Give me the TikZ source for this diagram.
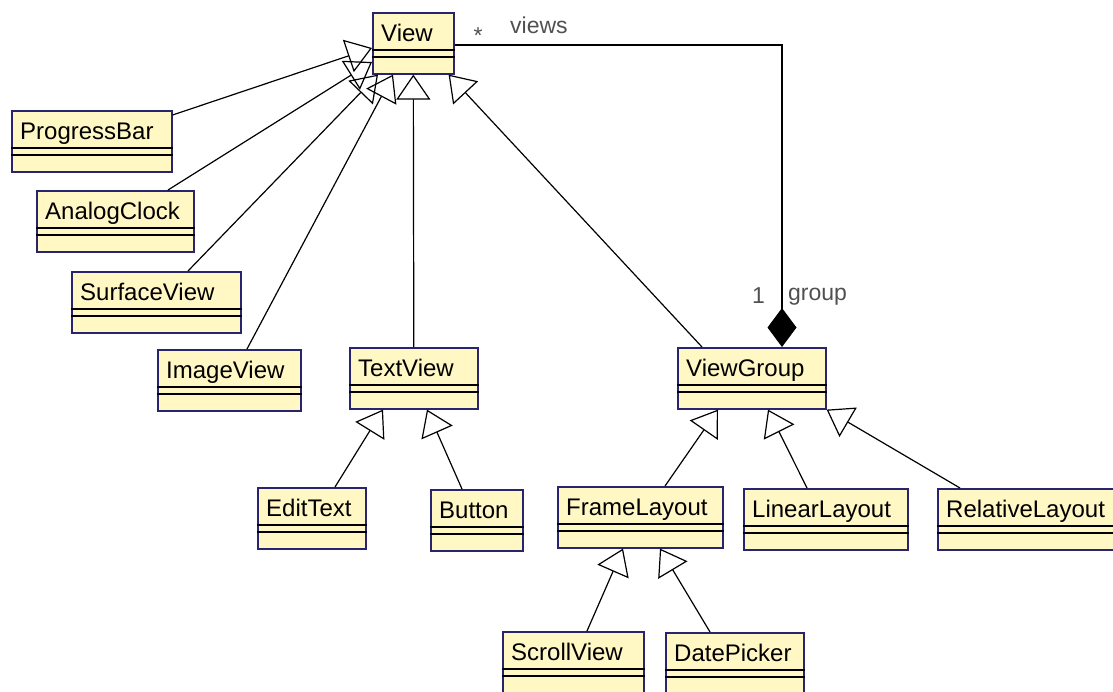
\documentclass[tikz,border=0pt]{standalone}
\usepackage{fontspec}
\setmainfont{Liberation Sans}
\usetikzlibrary{arrows.meta}

\definecolor{classfill}{RGB}{255,247,196}
\definecolor{classedge}{RGB}{40,36,110}
\definecolor{rolegray}{RGB}{80,80,80}

\tikzset{
  classbox/.style={rectangle, draw=classedge, fill=classfill, line width=1.6pt,
    minimum height=61pt, inner sep=0pt},
  classname/.style={inner sep=0pt, font=\fontsize{24}{28}\selectfont},
  compline/.style={line width=1.5pt, black},
  generalize/.style={line width=1.2pt,
    -{Triangle[open, length=25pt, width=34pt]}},
  compose/.style={line width=1.2pt, -{Diamond[length=39pt, width=29pt]}},
  rolelabel/.style={inner sep=0pt, text=rolegray, font=\fontsize{23}{27}\selectfont},
}

% class box: name, left, top, width, title
\newcommand\umlclass[5]{%
  \node[classbox, minimum width=#4pt, anchor=north west] (#1) at (#2,#3) {};
  \node[classname, anchor=base west] (#1-title)
    at ([xshift=9pt, yshift=-29pt]#1.north west) {#5};
  \draw[compline] ([yshift=-38pt]#1.north west) -- ([yshift=-38pt]#1.north east);
  \draw[compline] ([yshift=-45pt]#1.north west) -- ([yshift=-45pt]#1.north east);
}

\begin{document}
\begin{tikzpicture}[x=1pt, y=-1pt]
\useasboundingbox (0,0) rectangle (1113,691);
\clip (0,0) rectangle (1113,691);

% classes
\umlclass{view}{372}{12}{81}{View}
\umlclass{pb}{11}{110}{160}{ProgressBar}
\umlclass{ac}{36}{190}{157}{AnalogClock}
\umlclass{sv}{71}{271}{169}{SurfaceView}
\umlclass{iv}{157}{349}{143}{ImageView}
\umlclass{tv}{349}{347}{128}{TextView}
\umlclass{vg}{677}{347}{148}{ViewGroup}
\umlclass{et}{257}{487}{108}{EditText}
\umlclass{bt}{430}{489}{92}{Button}
\umlclass{fl}{557}{486}{165}{FrameLayout}
\umlclass{ll}{743}{488}{164}{LinearLayout}
\umlclass{rl}{937}{488}{185}{RelativeLayout}
\umlclass{sc}{502}{631}{141}{ScrollView}
\umlclass{dp}{665}{632}{138}{DatePicker}

% generalizations to View
\draw[generalize] ([yshift=-5pt]pb.north east) -- ([yshift=-36pt]view.north west);
\draw[generalize] ([xshift=132pt]ac.north west) -- ([yshift=-50pt]view.north west);
\draw[generalize] ([xshift=117pt]sv.north west) -- ([xshift=6pt]view.south west);
\draw[generalize] ([xshift=90pt]iv.north west) -- ([xshift=21pt]view.south west);
\draw[generalize] (tv.north) -- (view.south);
\draw[generalize] ([xshift=25pt]vg.north west) -- ([xshift=-6pt]view.south east);

% generalizations to TextView
\draw[generalize] ([xshift=78pt]et.north west) -- ([xshift=34pt]tv.south west);
\draw[generalize] ([xshift=32pt]bt.north west) -- ([xshift=78pt]tv.south west);

% generalizations to ViewGroup
\draw[generalize] ([xshift=108pt]fl.north west) -- ([xshift=41pt]vg.south west);
\draw[generalize] ([xshift=64pt]ll.north west) -- ([xshift=91pt]vg.south west);
\draw[generalize] ([xshift=23pt]rl.north west) -- (vg.south east);

% generalizations to FrameLayout
\draw[generalize] ([xshift=85pt]sc.north west) -- ([xshift=66pt]fl.south west);
\draw[generalize] ([xshift=45pt]dp.north west) -- ([xshift=103pt]fl.south west);

% composition View * -- 1 ViewGroup
\coordinate (grp) at ([xshift=105pt]vg.north west);
\draw[compose] ([yshift=-33pt]view.north east) -| (grp);

% role labels
\node[rolelabel] (star) at (478,36) {*};
\node[rolelabel, anchor=base west] (views) at (510,33) {views};
\node[rolelabel, anchor=base west] (one) at (752,303) {1};
\node[rolelabel, anchor=base west] (group) at (788,300) {group};
\end{tikzpicture}
\end{document}
